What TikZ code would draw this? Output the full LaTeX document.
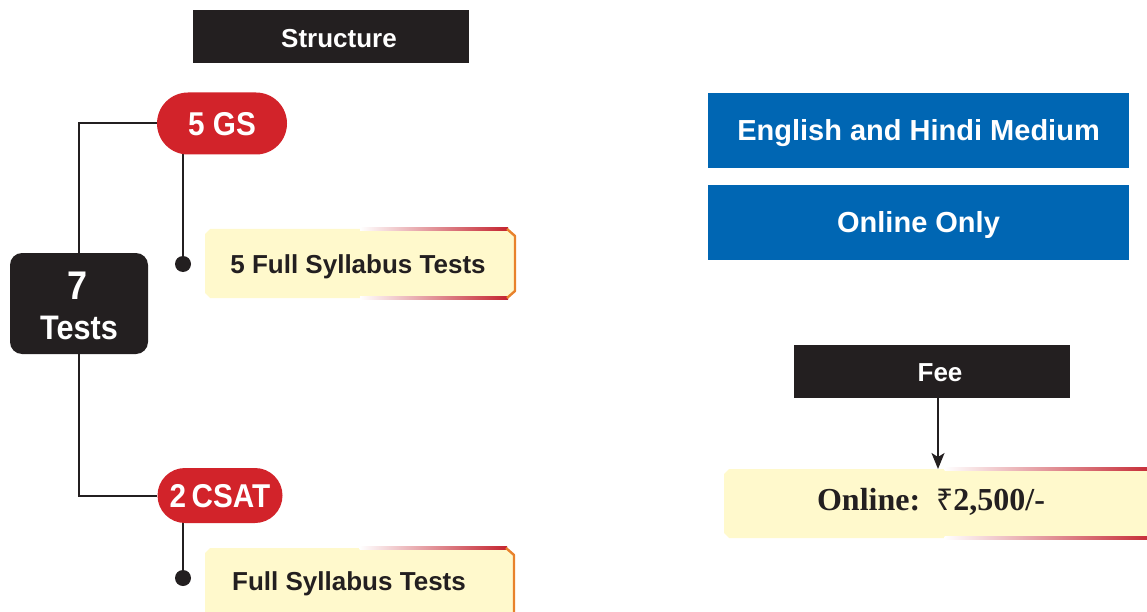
\documentclass[tikz,border=0pt]{standalone}
\usepackage{fontspec}
\setmainfont{Liberation Sans}
\newfontfamily\condfont[FakeStretch=0.9]{Liberation Sans}
\newfontfamily\seriffont{Liberation Serif}
\newfontfamily\rupeefont{Noto Sans}
\usetikzlibrary{arrows.meta,shapes.misc,backgrounds}
\definecolor{dark}{HTML}{231F20}
\definecolor{gsred}{HTML}{D2232A}
\definecolor{bblue}{HTML}{0066B3}
\definecolor{cream}{HTML}{FFF9CC}
\definecolor{bred}{HTML}{C4242F}
\definecolor{borange}{HTML}{E8822C}
\newcommand{\px}[1]{\fontsize{#1}{#1}\selectfont}
\newcommand{\ybox}[4]{%
  \fill[cream] (#1+5,#2) -- (#3-7,#2) -- (#3,#2+7) -- (#3,#4-7) -- (#3-7,#4) -- (#1+5,#4) -- (#1,#4-5) -- (#1,#2+5) -- cycle;
  \shade[left color=white,right color=bred] ({#1+0.5*(#3-#1)},#2-1.2) rectangle (#3-7,#2+1.2);
  \shade[left color=white,right color=bred] ({#1+0.5*(#3-#1)},#4-1.2) rectangle (#3-7,#4+1.2);
  \draw[borange,line width=2.4pt,line join=round] (#3-8,#2) -- (#3,#2+7) -- (#3,#4-7) -- (#3-8,#4);
}
\tikzset{
  headerbox/.style={fill=dark,minimum width=276pt,minimum height=53pt,inner sep=0pt},
  headertext/.style={text=white,font=\bfseries\px{26},inner sep=0pt,text height=18.6pt,text depth=0pt},
  pill/.style={fill=gsred,text=white,rounded rectangle,font=\condfont\bfseries\px{33},inner sep=0pt,text height=23.6pt,text depth=0pt},
  bluebox/.style={fill=bblue,text=white,font=\bfseries\px{29},minimum width=421pt,minimum height=75pt,inner sep=0pt,text height=20.8pt,text depth=0pt},
  ytext/.style={text=dark,font=\bfseries\px{26},inner sep=0pt,text height=18.6pt,text depth=0pt},
  conn/.style={draw=dark,line width=2pt},
  dot/.style={circle,fill=dark,minimum size=16pt,inner sep=0pt},
}
\begin{document}
\begin{tikzpicture}[x=1pt,y=-1pt]
\useasboundingbox (0,0) rectangle (1147,612);
\clip (0,0) rectangle (1147,612);
% headers
\node[headerbox] (structure) at (331,36.5) {};
\node[headertext] (structuretext) at (339,38.5) {Structure};
\node[headerbox] (fee) at (931.5,371) {};
\node[headertext] (feetext) at (940,372) {Fee};
% blue boxes
\node[bluebox] (medium) at (918.5,130.5) {English and Hindi Medium};
\node[bluebox] (online) at (918.5,222.5) {Online Only};
% tests box
\node[fill=dark,rounded corners=12pt,minimum width=138pt,minimum height=101pt,inner sep=0pt] (tests) at (79,303.5) {};
\node[text=white,font=\condfont\bfseries\px{40},inner sep=0pt,text height=28.6pt,text depth=0pt] (seven) at (78,285) {7};
\node[text=white,font=\condfont\bfseries\px{34},inner sep=0pt,text height=24.3pt,text depth=0pt] (testsl) at (79,327) {Tests};
% pills
\node[pill,minimum width=130pt,minimum height=62pt] (gs) at (222,123.5) {5 GS};
\node[pill,minimum width=125pt,minimum height=55pt] (csat) at (220,495.5) {2\,CSAT};
% yellow boxes
\ybox{205}{229}{515}{298}
\node[ytext] (t1) at (358,264) {5 Full Syllabus Tests};
\ybox{205}{548}{514}{640}
\node[ytext] (t2) at (349,581) {Full Syllabus Tests};
\ybox{724}{469}{1165}{538}
\node[text=dark,font=\seriffont\bfseries\px{32},inner sep=0pt,text height=21.2pt,text depth=0pt] (price) at (931,500) {Online:\ \ {\rupeefont\bfseries\px{30}₹}2,500/-};
\coordinate (ptop) at (938,469);
% dots
\node[dot] (d1) at (183,264) {};
\node[dot] (d2) at (183,578) {};
% connectors
\begin{scope}[on background layer]
\draw[conn] (gs.west) -| (tests.north);
\draw[conn] (tests.south) |- (csat.west);
\draw[conn] (d1 |- gs.center) -- (d1.center);
\draw[conn] (d2 |- csat.center) -- (d2.center);
\end{scope}
\draw[draw=dark,line width=1.6pt,-{Stealth[length=16pt,width=13pt,inset=4pt]}] (fee.south -| ptop) -- (ptop);
\end{tikzpicture}
\end{document}
